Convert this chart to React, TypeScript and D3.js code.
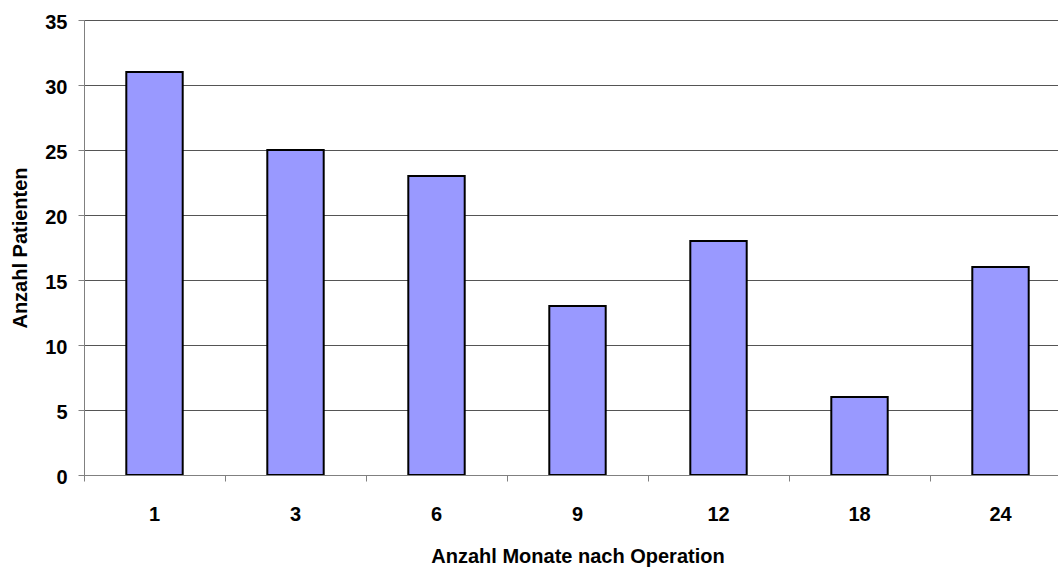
import React from "react";
import * as d3 from "d3";

// months after surgery and patient counts
const months = ["1", "3", "6", "9", "12", "18", "24"];
const patients = [31, 25, 23, 13, 18, 6, 16];
const yTicks = [0, 5, 10, 15, 20, 25, 30, 35];

const W = 1058;
const H = 567;
const margin = { left: 84, top: 20, right: -13, bottom: 92 };
const font = "'Liberation Sans', Arial, sans-serif";
const fs = 20;

export default function App() {
  const ref = React.useRef<SVGSVGElement>(null);

  React.useEffect(() => {
    const svg = d3.select(ref.current);
    svg.selectAll("*").remove();

    const x = d3
      .scaleBand()
      .domain(months)
      .range([margin.left, W - margin.right])
      .paddingInner(0.6)
      .paddingOuter(0.3);
    const x0 = d3.scaleBand().domain(months).range([margin.left, W - margin.right]);
    const y = d3.scaleLinear().domain([0, 35]).range([H - margin.bottom, margin.top]);

    // gridlines
    svg
      .append("g")
      .selectAll("line")
      .data(yTicks.slice(1))
      .enter()
      .append("line")
      .attr("x1", margin.left)
      .attr("x2", W)
      .attr("y1", (d) => y(d) + 0.5)
      .attr("y2", (d) => y(d) + 0.5)
      .attr("stroke", "#555")
      .attr("stroke-width", 1);

    // bars
    svg
      .append("g")
      .selectAll("rect")
      .data(patients)
      .enter()
      .append("rect")
      .attr("x", (d, i) => x(months[i])!)
      .attr("width", x.bandwidth())
      .attr("y", (d) => y(d))
      .attr("height", (d) => y(0) - y(d))
      .attr("fill", "#9999FF")
      .attr("stroke", "#000")
      .attr("stroke-width", 2);

    // y axis
    const yAxis = svg
      .append("g")
      .attr("transform", `translate(${margin.left + 0.5},0)`)
      .call(d3.axisLeft(y).tickValues(yTicks).tickSize(6).tickPadding(11));
    yAxis.select(".domain").attr("stroke", "#808080").attr("d", `M0,${y(35)}V${y(0)}`);
    yAxis.selectAll(".tick line").attr("stroke", "#808080");
    yAxis
      .selectAll(".tick text")
      .attr("font-family", font)
      .attr("font-size", fs)
      .attr("font-weight", "bold")
      .attr("dy", "0.42em")
      .attr("fill", "#000");

    // x axis
    const xAxis = svg
      .append("g")
      .attr("transform", `translate(0,${y(0) + 0.5})`);
    xAxis
      .append("line")
      .attr("x1", margin.left)
      .attr("x2", W)
      .attr("stroke", "#808080");
    xAxis
      .selectAll(".tk")
      .data(months)
      .enter()
      .append("line")
      .attr("x1", (d) => x0(d)! + 0.5)
      .attr("x2", (d) => x0(d)! + 0.5)
      .attr("y1", 0)
      .attr("y2", 6)
      .attr("stroke", "#808080");
    xAxis
      .selectAll("text")
      .data(months)
      .enter()
      .append("text")
      .attr("x", (d) => x0(d)! + x0.bandwidth() / 2)
      .attr("y", 45)
      .attr("text-anchor", "middle")
      .attr("font-family", font)
      .attr("font-size", fs)
      .attr("font-weight", "bold")
      .text((d) => d);

    // titles
    svg
      .append("text")
      .attr("x", 578)
      .attr("y", 563)
      .attr("text-anchor", "middle")
      .attr("font-family", font)
      .attr("font-size", fs)
      .attr("font-weight", "bold")
      .text("Anzahl Monate nach Operation");
    svg
      .append("text")
      .attr("transform", `translate(27,248) rotate(-90)`)
      .attr("text-anchor", "middle")
      .attr("font-family", font)
      .attr("font-size", fs)
      .attr("font-weight", "bold")
      .text("Anzahl Patienten");
  });

  return (
    <svg
      ref={ref}
      width={W}
      height={H}
      style={{ position: "absolute", left: 0, top: 0, background: "#fff" }}
    />
  );
}
